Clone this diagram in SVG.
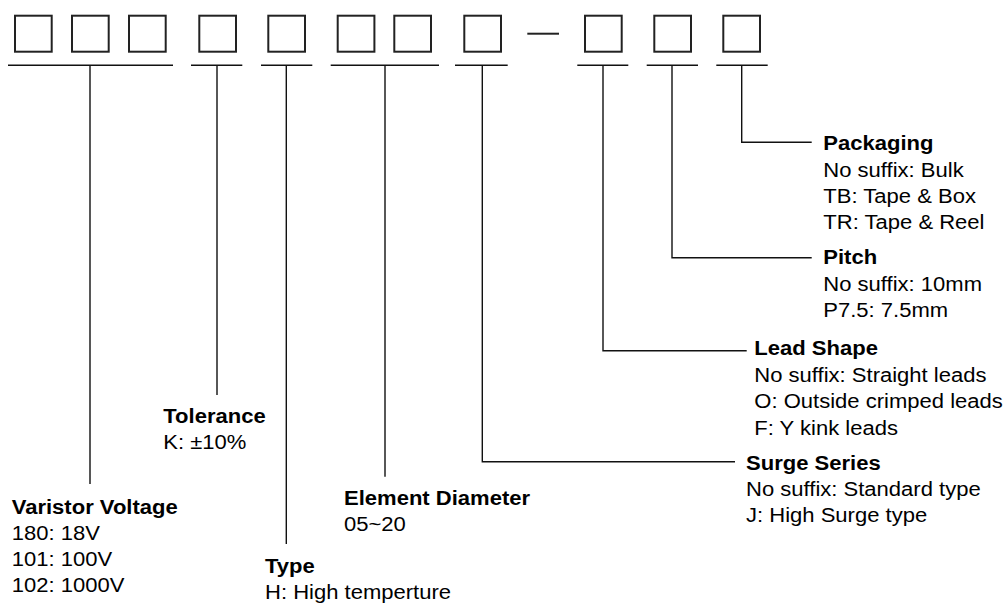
<svg xmlns="http://www.w3.org/2000/svg" width="1008" height="604" viewBox="0 0 1008 604">
<style>
.box{fill:none;stroke:#222;stroke-width:2}
.ln{fill:none;stroke:#111;stroke-width:1.4}
text{font-family:"Liberation Sans",Arial,sans-serif;font-size:19.5px;fill:#000}
.t{font-weight:bold}
</style>
<rect width="1008" height="604" fill="#fff"/>
<g id="code-boxes">
<rect class="box" x="15" y="15.7" width="36.7" height="36"/>
<rect class="box" x="72" y="15.7" width="36.7" height="36"/>
<rect class="box" x="129" y="15.7" width="36.7" height="36"/>
<rect class="box" x="199.3" y="15.7" width="36.7" height="36"/>
<rect class="box" x="268.3" y="15.7" width="36.7" height="36"/>
<rect class="box" x="337.7" y="15.7" width="36.7" height="36"/>
<rect class="box" x="394.3" y="15.7" width="36.7" height="36"/>
<rect class="box" x="464.3" y="15.7" width="36.7" height="36"/>
<line class="box" x1="527.3" y1="33.7" x2="559" y2="33.7"/>
<rect class="box" x="585" y="15.7" width="36.7" height="36"/>
<rect class="box" x="654.3" y="15.7" width="36.7" height="36"/>
<rect class="box" x="723.3" y="15.7" width="36.7" height="36"/>
</g>
<g id="connectors">
<path class="ln" d="M8 65.3H173M90 65.3V484"/>
<path class="ln" d="M191 65.3H242.3M217 65.3V395"/>
<path class="ln" d="M261 65.3H312.3M286.3 65.3V544"/>
<path class="ln" d="M330.7 65.3H439M385 65.3V476.7"/>
<path class="ln" d="M455 65.3H507.7M482.3 65.3V461.7H735"/>
<path class="ln" d="M577.3 65.3H628.3M603 65.3V350.7H746.7"/>
<path class="ln" d="M646.7 65.3H698M672 65.3V257.7H811.7"/>
<path class="ln" d="M716.3 65.3H767.7M741.7 65.3V142.3H811.7"/>
</g>
<g id="varistor-voltage" transform="translate(11.7,0) scale(1.13,1)">
<text class="t" x="0" y="514">Varistor Voltage</text>
<text x="0" y="540">180: 18V</text>
<text x="0" y="566">101: 100V</text>
<text x="0" y="592">102: 1000V</text>
</g>
<g id="tolerance" transform="translate(163.3,0) scale(1.13,1)">
<text class="t" x="0" y="423">Tolerance</text>
<text x="0" y="449">K: ±10%</text>
</g>
<g id="type" transform="translate(265,0) scale(1.13,1)">
<text class="t" x="0" y="573.5">Type</text>
<text x="0" y="599.5">H: High temperture</text>
</g>
<g id="element-diameter" transform="translate(344,0) scale(1.13,1)">
<text class="t" x="0" y="505">Element Diameter</text>
<text x="0" y="531">05~20</text>
</g>
<g id="surge-series" transform="translate(746,0) scale(1.13,1)">
<text class="t" x="0" y="470">Surge Series</text>
<text x="0" y="496">No suffix: Standard type</text>
<text x="0" y="522">J: High Surge type</text>
</g>
<g id="lead-shape" transform="translate(754.3,0) scale(1.13,1)">
<text class="t" x="0" y="355">Lead Shape</text>
<text x="0" y="381.7">No suffix: Straight leads</text>
<text x="0" y="408.3">O: Outside crimped leads</text>
<text x="0" y="435">F: Y kink leads</text>
</g>
<g id="pitch" transform="translate(823.3,0) scale(1.13,1)">
<text class="t" x="0" y="264">Pitch</text>
<text x="0" y="291">No suffix: 10mm</text>
<text x="0" y="317.3">P7.5: 7.5mm</text>
</g>
<g id="packaging" transform="translate(823.3,0) scale(1.13,1)">
<text class="t" x="0" y="150">Packaging</text>
<text x="0" y="176.7">No suffix: Bulk</text>
<text x="0" y="203">TB: Tape &amp; Box</text>
<text x="0" y="229.5">TR: Tape &amp; Reel</text>
</g>
</svg>
